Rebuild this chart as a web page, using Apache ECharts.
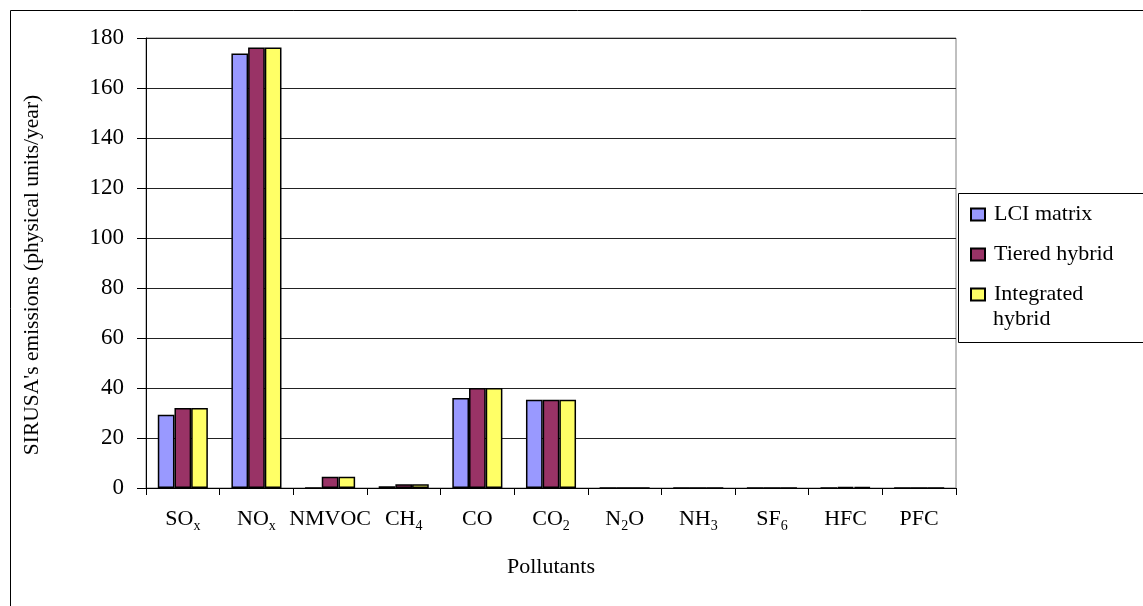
<!DOCTYPE html>
<html>
<head>
<meta charset="utf-8">
<title>SIRUSA's emissions by pollutant</title>
<script src="https://cdn.jsdelivr.net/npm/echarts@6/dist/echarts.min.js"></script>
<style>
  html, body { margin: 0; padding: 0; background: #fff; }
  #chart { width: 1143px; height: 606px; }
</style>
</head>
<body>
<div id="chart"></div>
<script>
// Pollutant categories; {s|...} marks a subscript in the axis label
const categories = ['SO{s|x}', 'NO{s|x}', 'NMVOC', 'CH{s|4}', 'CO', 'CO{s|2}', 'N{s|2}O', 'NH{s|3}', 'SF{s|6}', 'HFC', 'PFC'];

// Emissions (physical units/year) for each method
const lciMatrix        = [29.3, 173.8, 0,   0.7, 36, 35.3, 0, 0, 0, 0,   0];
const tieredHybrid     = [32,   176.2, 4.5, 1.5, 40, 35.3, 0, 0, 0, 0.4, 0];
const integratedHybrid = [32,   176.2, 4.5, 1.5, 40, 35.3, 0, 0, 0, 0.4, 0];

const seriesNames = ['LCI matrix', 'Tiered hybrid', 'Integrated'];
const seriesColors = ['#9999FF', '#993366', '#FFFF66'];

const FONT = 'Liberation Serif';

const chart = echarts.init(document.getElementById('chart'));

function barSeries(name, data, color) {
  return {
    name: name,
    type: 'bar',
    data: data,
    barGap: '0%',
    barCategoryGap: '32%',
    itemStyle: { color: color, borderColor: '#000', borderWidth: 1.5 },
    emphasis: { disabled: true }
  };
}

chart.setOption({
  backgroundColor: '#fff',
  animation: false,
  textStyle: { fontFamily: FONT, color: '#000' },
  grid: {
    left: 146, top: 38, right: 187, bottom: 118,
    show: true, borderColor: '#808080', borderWidth: 1, backgroundColor: '#fff'
  },
  legend: {
    orient: 'vertical',
    left: 970, top: 202,
    padding: 0,
    itemGap: 15,
    itemWidth: 14, itemHeight: 12,
    icon: 'rect',
    textStyle: { fontFamily: FONT, fontSize: 22, color: '#000', lineHeight: 25, padding: [0, 0, 0, 4] },
    data: seriesNames
  },
  xAxis: {
    type: 'category',
    data: categories,
    name: 'Pollutants',
    nameLocation: 'middle',
    nameGap: 68,
    nameTextStyle: { fontFamily: FONT, fontSize: 22, color: '#000' },
    axisLine: { lineStyle: { color: '#000', width: 1 } },
    axisTick: { show: true, interval: 0, length: 7, lineStyle: { color: '#000' } },
    axisLabel: {
      interval: 0,
      hideOverlap: false,
      margin: 17,
      lineHeight: 28,
      fontFamily: FONT, fontSize: 22, color: '#000',
      rich: {
        s: { fontFamily: FONT, fontSize: 14, lineHeight: 14, color: '#000', verticalAlign: 'bottom', padding: [14, 0, 0, 0] }
      }
    }
  },
  yAxis: {
    type: 'value',
    min: 0, max: 180, interval: 20,
    name: "SIRUSA's emissions (physical units/year)",
    nameLocation: 'middle',
    nameRotate: 90,
    nameGap: 103,
    nameTextStyle: { fontFamily: FONT, fontSize: 21.5, color: '#000', padding: [0, 24, 0, 0] },
    axisLine: { show: true, lineStyle: { color: '#000', width: 1 } },
    axisTick: { show: true, length: 9, lineStyle: { color: '#000' } },
    axisLabel: { margin: 22, fontFamily: FONT, fontSize: 23, color: '#000' },
    splitLine: { show: true, lineStyle: { color: '#222', width: 1 } }
  },
  series: [
    barSeries(seriesNames[0], lciMatrix, seriesColors[0]),
    barSeries(seriesNames[1], tieredHybrid, seriesColors[1]),
    barSeries(seriesNames[2], integratedHybrid, seriesColors[2])
  ],
  graphic: [
    // outer chart frame
    { type: 'rect', silent: true, z: -10,
      shape: { x: 10.5, y: 10.5, width: 1300, height: 800 },
      style: { fill: null, stroke: '#000', lineWidth: 1 } },
    // legend frame
    { type: 'rect', silent: true,
      shape: { x: 958.5, y: 193.5, width: 200, height: 149 },
      style: { fill: '#fff', stroke: '#000', lineWidth: 1 }, z: -1 },
    // second line of the third legend entry
    { type: 'text', silent: true, left: 993, top: 308,
      style: { text: 'hybrid', fontFamily: FONT, fontSize: 22, fill: '#000' } }
  ]
});
</script>
</body>
</html>
